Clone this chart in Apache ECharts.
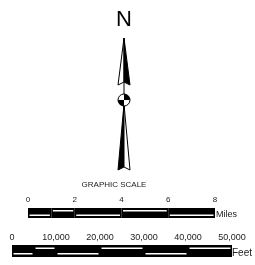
<!DOCTYPE html>
<html>
<head>
<meta charset="utf-8">
<script src="https://cdn.jsdelivr.net/npm/echarts@6/dist/echarts.min.js"></script>
<style>
  html, body { margin: 0; padding: 0; background: #fff; }
  #chart { width: 255px; height: 265px; }
</style>
</head>
<body>
<div id="chart"></div>
<script>
// scale bar data: [start, end, side] side 0 = white line at bottom, 1 = at top
const milesTicks = [0, 2, 4, 6, 8]
const milesSegments = [[0, 1, 0], [1, 2, 1], [2, 4, 0], [4, 6, 1], [6, 8, 0]]
const feetTicks = [0, 10000, 20000, 30000, 40000, 50000]
const feetSegments = [[0, 5000, 0], [5000, 10000, 1], [10000, 20000, 0], [20000, 30000, 1], [30000, 40000, 0], [40000, 50000, 1]]

// north arrow shape, x in -1..1 (half width), y down from the tip
const arrowHeadLeft = [[0, 0], [-1, 47], [0, 44]]
const arrowHeadRight = [[0, 0], [0, 44], [1, 47]]
const arrowTailLeft = [[0, 66], [-1, 132], [0, 129]]
const arrowTailRight = [[0, 66], [0, 129], [1, 132]]
const arrowShaft = [[0, 44], [0, 129]]
const compassCircle = [0, 62, 6] // cx, cy, r (y units)

const FONT = 'Liberation Sans, Arial, sans-serif'
const TEXT_COLOR = '#222'

const chart = echarts.init(document.getElementById('chart'), null, { renderer: 'canvas' })

function scaleBarItem(lineInset, lineOffset, lineWidth) {
    return function (params, api) {
        const cs = params.coordSys
        const x0 = api.coord([api.value(0), 0])[0]
        const x1 = api.coord([api.value(1), 0])[0]
        const side = api.value(2)
        const ly = side === 1 ? cs.y + lineOffset : cs.y + cs.height - lineOffset - lineWidth
        return {
            type: 'group',
            children: [
                { type: 'rect', shape: { x: x0, y: cs.y, width: x1 - x0, height: cs.height }, style: { fill: '#000' } },
                { type: 'rect', shape: { x: x0 + lineInset, y: ly, width: x1 - x0 - 2 * lineInset, height: lineWidth }, style: { fill: '#fff' } }
            ]
        }
    }
}

function arrowItem(params, api) {
    const pts = arr => arr.map(p => api.coord(p))
    const c = api.coord([compassCircle[0], compassCircle[1]])
    const r = api.coord([0, compassCircle[1] + compassCircle[2]])[1] - c[1]
    const line = { stroke: '#000', lineWidth: 1 }
    return {
        type: 'group',
        children: [
            { type: 'polyline', shape: { points: pts(arrowShaft) }, style: line },
            { type: 'polygon', shape: { points: pts(arrowHeadLeft) }, style: { fill: '#fff', stroke: '#000', lineWidth: 1 } },
            { type: 'polygon', shape: { points: pts(arrowHeadRight) }, style: { fill: '#000', stroke: '#000', lineWidth: 1 } },
            { type: 'polygon', shape: { points: pts(arrowTailLeft) }, style: { fill: '#000', stroke: '#000', lineWidth: 1 } },
            { type: 'polygon', shape: { points: pts(arrowTailRight) }, style: { fill: '#fff', stroke: '#000', lineWidth: 1 } },
            { type: 'circle', shape: { cx: c[0], cy: c[1], r: r }, style: { fill: '#fff', stroke: '#000', lineWidth: 1 } },
            { type: 'sector', shape: { cx: c[0], cy: c[1], r0: 0, r: r, startAngle: -Math.PI / 2, endAngle: 0, clockwise: true }, style: { fill: '#000' } },
            { type: 'sector', shape: { cx: c[0], cy: c[1], r0: 0, r: r, startAngle: Math.PI / 2, endAngle: Math.PI, clockwise: true }, style: { fill: '#000' } }
        ]
    }
}

let option = {
    backgroundColor: '#fff',
    animation: false,
    grid: [
        { left: 118, top: 38, width: 12, height: 132 },   // north arrow
        { left: 28, top: 208, width: 187, height: 10 },   // miles
        { left: 12, top: 245, width: 220, height: 12 }    // feet
    ],
    xAxis: [
        { gridIndex: 0, type: 'value', min: -1, max: 1, show: false },
        {
            gridIndex: 1, type: 'value', position: 'top', min: milesTicks[0], max: milesTicks[milesTicks.length - 1], interval: 2,
            axisLine: { show: false }, axisTick: { show: false }, splitLine: { show: false },
            axisLabel: { margin: 4, fontSize: 8, color: TEXT_COLOR, fontFamily: FONT, showMinLabel: true, showMaxLabel: true }
        },
        {
            gridIndex: 2, type: 'value', position: 'top', min: feetTicks[0], max: feetTicks[feetTicks.length - 1], interval: 10000,
            axisLine: { show: false }, axisTick: { show: false }, splitLine: { show: false },
            axisLabel: {
                margin: 3, fontSize: 9, color: TEXT_COLOR, fontFamily: FONT, showMinLabel: true, showMaxLabel: true,
                formatter: v => v.toLocaleString('en-US')
            }
        }
    ],
    yAxis: [
        { gridIndex: 0, type: 'value', min: 0, max: 132, inverse: true, show: false },
        { gridIndex: 1, type: 'value', min: 0, max: 1, show: false },
        { gridIndex: 2, type: 'value', min: 0, max: 1, show: false }
    ],
    graphic: [
        { type: 'text', x: 124, y: 20, style: { text: 'N', font: '22px ' + FONT, fill: '#000', align: 'center', verticalAlign: 'middle' } },
        { type: 'text', x: 114, y: 185, style: { text: 'GRAPHIC SCALE', font: '8px ' + FONT, fill: TEXT_COLOR, align: 'center', verticalAlign: 'middle' } },
        { type: 'text', x: 216, y: 215, style: { text: 'Miles', font: '9px ' + FONT, fill: TEXT_COLOR, align: 'left', verticalAlign: 'middle' } },
        { type: 'text', x: 232, y: 253, style: { text: 'Feet', font: '10px ' + FONT, fill: TEXT_COLOR, align: 'left', verticalAlign: 'middle' } }
    ],
    series: [
        { type: 'custom', xAxisIndex: 0, yAxisIndex: 0, renderItem: arrowItem, data: [[0, 0]], silent: true },
        { type: 'custom', xAxisIndex: 1, yAxisIndex: 1, renderItem: scaleBarItem(1.5, 2, 1.5), encode: { x: [0, 1] }, data: milesSegments, silent: true },
        { type: 'custom', xAxisIndex: 2, yAxisIndex: 2, renderItem: scaleBarItem(1.5, 2.5, 1.5), encode: { x: [0, 1] }, data: feetSegments, silent: true }
    ]
}

chart.setOption(option)
</script>
</body>
</html>
